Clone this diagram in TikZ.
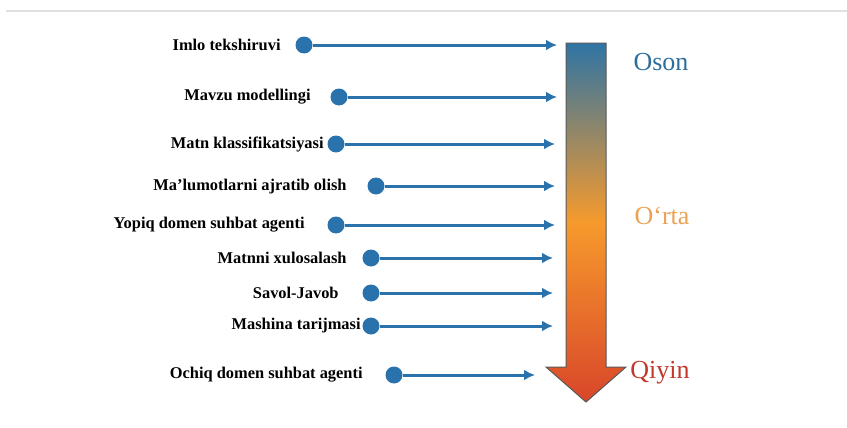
\documentclass[tikz,border=0pt]{standalone}
\usepackage{fontspec}
\setmainfont{Liberation Serif}
\usetikzlibrary{arrows.meta}
\definecolor{DotClr}{HTML}{2A72AC}
\definecolor{TopClr}{HTML}{2F74A4}
\definecolor{MidClr}{HTML}{F69A2C}
\definecolor{LowClr}{HTML}{D9462A}
\definecolor{OsonClr}{HTML}{2E6E9C}
\definecolor{OrtaClr}{HTML}{E9A255}
\definecolor{QiyinClr}{HTML}{C2392C}

\tikzset{
  task/.style={anchor=east,inner sep=1pt,font=\bfseries\fontsize{8.2}{9}\selectfont},
  dot/.style={circle,fill=DotClr,inner sep=0pt,minimum size=8.5pt},
  link/.style={draw=DotClr,line width=1.5pt,-{Latex[length=5.5pt,width=5.5pt]}},
  level/.style={font=\fontsize{13}{15}\selectfont}
}

\begin{document}
\begin{tikzpicture}[x=0.5pt,y=-0.5pt]
\useasboundingbox (0,0) rectangle (847,428);
\draw[line width=0.8pt,color=black!12] (6,11) -- (847,11);

% gradient arrow
\shade[top color=TopClr,bottom color=LowClr,middle color=MidClr,draw=black!65,line width=0.5pt]
  (566,43) -- (606,43) -- (606,367) -- (626,367) -- (586,402) -- (546,367) -- (566,367) -- cycle;

\node[level,text=OsonClr] (oson) at (661,62) {Oson};
\node[level,text=OrtaClr] (orta) at (662,216) {O‘rta};
\node[level,text=QiyinClr] (qiyin) at (660,373) {Qiyin};

% tasks
\node[task] (t1) at (283,45) {Imlo tekshiruvi};
\node[task] (t2) at (313,97) {Mavzu modellingi};
\node[task] (t3) at (326,144) {Matn klassifikatsiyasi};
\node[task] (t4) at (349,187) {Ma’lumotlarni ajratib olish};
\node[task] (t5) at (307,225) {Yopiq domen suhbat agenti};
\node[task] (t6) at (349,258) {Matnni xulosalash};
\node[task] (t7) at (341,293) {Savol-Javob};
\node[task] (t8) at (363,326) {Mashina tarijmasi};
\node[task] (t9) at (365,375) {Ochiq domen suhbat agenti};

\node[dot] (d1) at (304,45) {};
\node[dot] (d2) at (339,97) {};
\node[dot] (d3) at (336,144) {};
\node[dot] (d4) at (376,186) {};
\node[dot] (d5) at (336,225) {};
\node[dot] (d6) at (371,258) {};
\node[dot] (d7) at (371,293) {};
\node[dot] (d8) at (371,326) {};
\node[dot] (d9) at (394,375) {};

\coordinate (e1) at (557,45);
\coordinate (e2) at (557,97);
\coordinate (e3) at (555,144);
\coordinate (e4) at (555,186);
\coordinate (e5) at (555,225);
\coordinate (e6) at (553,258);
\coordinate (e7) at (553,293);
\coordinate (e8) at (553,326);
\coordinate (e9) at (535,375);

\draw[link] (d1) -- (e1);
\draw[link] (d2) -- (e2);
\draw[link] (d3) -- (e3);
\draw[link] (d4) -- (e4);
\draw[link] (d5) -- (e5);
\draw[link] (d6) -- (e6);
\draw[link] (d7) -- (e7);
\draw[link] (d8) -- (e8);
\draw[link] (d9) -- (e9);

\end{tikzpicture}
\end{document}
